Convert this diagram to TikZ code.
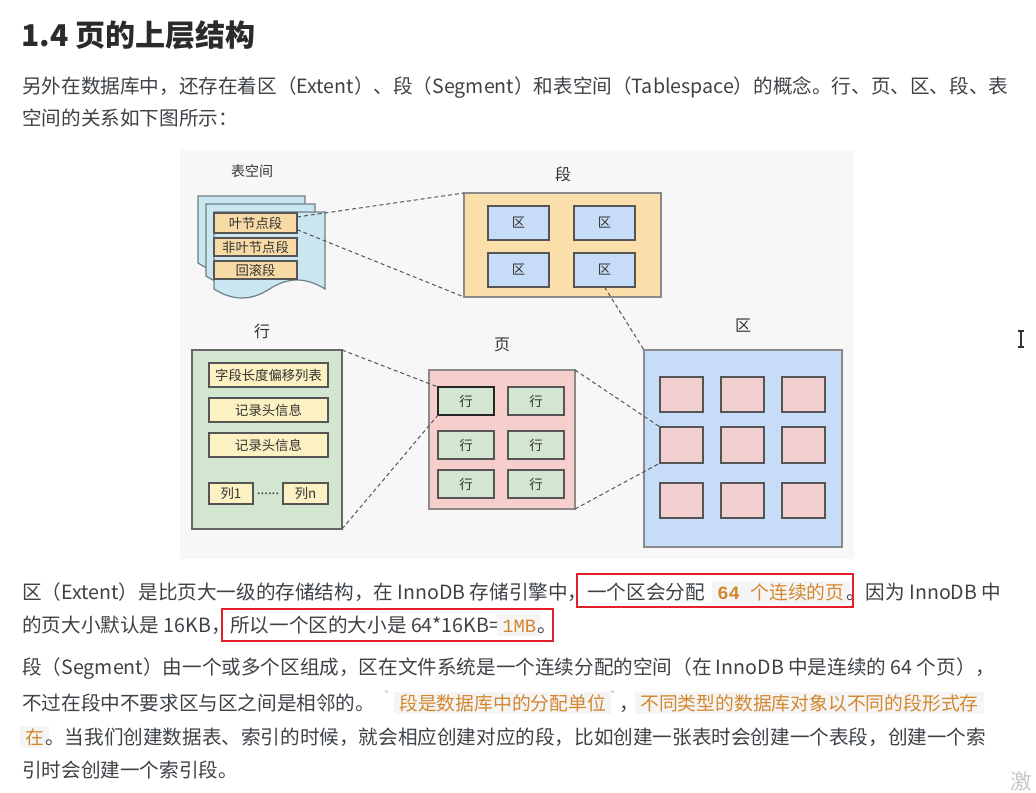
\documentclass[tikz,border=0pt]{standalone}
\usepackage{fontspec}
\setmainfont{Noto Sans CJK SC}
\newfontfamily\mymono{Liberation Mono}
\usetikzlibrary{fit,calc}
\definecolor{txtc}{HTML}{3D4247}
\definecolor{headc}{HTML}{2B2B2B}
\definecolor{codeor}{HTML}{D4872F}
\definecolor{codebg}{HTML}{F5F5F5}
\definecolor{tickc}{HTML}{A8A8A8}
\definecolor{redc}{HTML}{E3202A}
\definecolor{diagbg}{HTML}{F7F7F7}
\definecolor{sheetfill}{HTML}{C9E6F1}
\definecolor{sheetline}{HTML}{6F7E88}
\definecolor{tanfill}{HTML}{F8DAA6}
\definecolor{segfill}{HTML}{FADFAA}
\definecolor{bluefill}{HTML}{C6DCF7}
\definecolor{greenfill}{HTML}{D3E6CF}
\definecolor{yellowfill}{HTML}{FBF1C3}
\definecolor{pinkfill}{HTML}{F6CFCD}
\definecolor{pinkinner}{HTML}{F2CFCF}
\definecolor{bordc}{HTML}{555555}
\definecolor{outerc}{HTML}{8A8A8A}
\definecolor{dashc}{HTML}{555555}
\newcommand\mybody{\fontsize{14.7pt}{17pt}\selectfont}
\newcommand\mycode{\fontsize{14.1pt}{16pt}\selectfont}
\newcommand\myhead{\fontsize{22.5pt}{26pt}\selectfont\bfseries}
\newcommand\dlab{\fontsize{12pt}{14pt}\selectfont}
\newcommand\dsmall{\fontsize{10pt}{12pt}\selectfont}
\newcommand\dtiny{\fontsize{10.5pt}{12pt}\selectfont}
\tikzset{
  ln/.style={anchor=west, inner sep=0pt, text=txtc, font=\mybody, text height=12.9pt, text depth=1.8pt},
  codebox/.style={anchor=west, inner xsep=3.75pt, inner ysep=1.0pt, fill=codebg, text=codeor, font=\mycode, text height=12.4pt, text depth=1.7pt},
  tick/.style={anchor=west, inner sep=0pt, text=tickc, font=\mymono\fontsize{13pt}{15pt}\selectfont},
  redbox/.style={draw=redc, line width=2.1pt},
  fitbox/.style={inner sep=0pt, outer sep=0pt, line width=0.95pt, draw=bordc},
  outerbox/.style={inner sep=0pt, outer sep=0pt, line width=1.1pt, draw=outerc},
  every label/.style={font=\dsmall, text=black!80, inner sep=0pt},
  sheetst/.style={fill=sheetfill, draw=sheetline, line width=0.9pt},
  dlabel/.style={font=\dlab, text=black!80, inner sep=0pt},
  conn/.style={draw=dashc, line width=0.75pt, dash pattern=on 3pt off 2.2pt},
}
\begin{document}
\begin{tikzpicture}[x=0.75pt,y=-0.75pt]
\useasboundingbox (0,0) rectangle (1036,793);
\clip (0,0) rectangle (1036,793);
\fill[white] (0,0) rectangle (1036,793);

% ---------- heading and first paragraph ----------
\node[anchor=west, inner sep=0pt, text=headc, font=\myhead, text height=18.5pt, text depth=2.8pt] (head) at (21,36) {1.4 页的上层结构};
\node[ln] (p1a) at (22,86) {另外在数据库中，还存在着区（Extent）、段（Segment）和表空间（Tablespace）的概念。行、页、区、段、表};
\node[ln] (p1b) at (22,118) {空间的关系如下图所示：};

% ---------- diagram ----------
\fill[diagbg] (180,150) rectangle (854,559);

% tablespace sheets
\filldraw[sheetst] (198,196) -- (305,196) -- (305,263)
  .. controls (287,251) and (269,251) .. (251.5,263)
  .. controls (234,275) and (216,275) .. (198,263) -- cycle;
\filldraw[sheetst] (206,204) -- (315,204) -- (315,276)
  .. controls (297,264) and (279,264) .. (260.5,276)
  .. controls (242,288) and (224,288) .. (206,276) -- cycle;
\filldraw[sheetst] (214,212) -- (325,212) -- (325,289)
  .. controls (306,277) and (288,277) .. (269.5,289)
  .. controls (251,301) and (233,301) .. (214,289) -- cycle;
\node[dlabel, font=\dtiny] (tslab) at (252,171) {表空间};
\node[fitbox, fill=tanfill, fit={(214,213) (297,233)}, label=center:叶节点段] (leaf) {};
\node[fitbox, fill=tanfill, fit={(214,238) (297,256)}, label=center:非叶节点段] (nonleaf) {};
\node[fitbox, fill=tanfill, fit={(214,261) (297,279)}, label=center:回滚段] (rollback) {};

% segment
\node[dlabel] (seglab) at (563,174) {段};
\node[outerbox, fill=segfill, fit={(464,193) (661,297)}] (seg) {};
\node[fitbox, fill=bluefill, fit={(488,206) (549,240)}, label=center:区] (z1) {};
\node[fitbox, fill=bluefill, fit={(574,206) (635,240)}, label=center:区] (z2) {};
\node[fitbox, fill=bluefill, fit={(488,253) (549,287)}, label=center:区] (z3) {};
\node[fitbox, fill=bluefill, fit={(574,253) (635,287)}, label=center:区] (z4) {};

% row
\node[dlabel] (rowlab) at (262,331) {行};
\node[outerbox, draw=bordc!90, fill=greenfill, fit={(192,350) (342,529)}] (row) {};
\node[fitbox, fill=yellowfill, fit={(209,363) (328,387)}, label=center:字段长度偏移列表] (r1) {};
\node[fitbox, fill=yellowfill, fit={(209,398) (328,422)}, label=center:记录头信息] (r2) {};
\node[fitbox, fill=yellowfill, fit={(209,433) (328,457)}, label=center:记录头信息] (r3) {};
\node[fitbox, fill=yellowfill, fit={(209,483) (253,504)}, label=center:列1] (col1) {};
\node[fitbox, fill=yellowfill, fit={(283,483) (328,504)}, label=center:列n] (coln) {};
\node[font=\dsmall, text=black!80, inner sep=0pt] (dots) at (268,494) {......};

% page
\node[dlabel] (pagelab) at (502,345) {页};
\node[outerbox, fill=pinkfill, fit={(429,370) (575,509)}] (page) {};
\node[fitbox, draw=black!85, line width=1.1pt, fill=greenfill, fit={(438,387) (494,415)}, label=center:行] (h1) {};
\node[fitbox, fill=greenfill, fit={(508,387) (564,415)}, label=center:行] (h2) {};
\node[fitbox, fill=greenfill, fit={(438,431) (494,459)}, label=center:行] (h3) {};
\node[fitbox, fill=greenfill, fit={(508,431) (564,459)}, label=center:行] (h4) {};
\node[fitbox, fill=greenfill, fit={(438,470) (494,498)}, label=center:行] (h5) {};
\node[fitbox, fill=greenfill, fit={(508,470) (564,498)}, label=center:行] (h6) {};

% extent
\node[dlabel] (extlab) at (743,326) {区};
\node[outerbox, fill=bluefill, fit={(644,350) (842,547)}] (ext) {};
\foreach \c/\xa/\xb in {1/660/703, 2/721/764, 3/782/825}{
  \foreach \r/\ya/\yb in {1/377/412, 2/427/463, 3/483/518}{
    \node[fitbox, fill=pinkinner, fit={(\xa,\ya) (\xb,\yb)}] (e\r\c) {};
  }
}

% connectors
\draw[conn] ([yshift=4.5pt]leaf.east) -- (seg.north west);
\draw[conn] ([yshift=-5pt]leaf.east) -- (seg.south west);
\draw[conn] (z4.south) -- (ext.north west);
\draw[conn] (row.north east) -- (h1.north west);
\draw[conn] (row.south east) -- (h1.south west);
\draw[conn] (page.north east) -- (e21.north west);
\draw[conn] (page.south east) -- (e21.south west);

% ---------- second paragraph ----------
\node[ln] (a1) at (22,592) {区（Extent）是比页大一级的存储结构，在 InnoDB 存储引擎中，};
\node[ln] (a2) at (587,592) {一个区会分配};
\node[codebox] (a3) at (712,592) {{\mymono\bfseries 64}\hspace{8pt}个连续的页};
\node[ln] (a4) at (846,592) {。因为 InnoDB 中};
\draw[redbox] (577,574) rectangle (853,607);

\node[ln] (b1) at (22,625) {的页大小默认是 16KB，};
\node[ln] (b2) at (230,625) {所以一个区的大小是 64*16KB=};
\node[codebox] (b3) at (497,625) {{\mymono 1MB}};
\node[ln] (b4) at (537,625) {。};
\draw[redbox] (222,609) rectangle (553,641);

% ---------- third paragraph ----------
\node[ln] (c1) at (22,667) {段（Segment）由一个或多个区组成，区在文件系统是一个连续分配的空间（在 InnoDB 中是连续的 64 个页），};
\node[ln] (d1) at (22,703) {不过在段中不要求区与区之间是相邻的。};
\node[tick] (d2) at (381,697) {`};
\node[codebox] (d3) at (394,703) {段是数据库中的分配单位};
\node[tick] (d4) at (607,697) {`};
\node[ln] (d5) at (619,703) {，};
\node[codebox] (d6) at (635,703) {不同类型的数据库对象以不同的段形式存};
\node[codebox] (e1) at (20,737) {在};
\node[ln] (e2) at (45,737) {。当我们创建数据表、索引的时候，就会相应创建对应的段，比如创建一张表时会创建一个表段，创建一个索};
\node[ln] (f1) at (22,770) {引时会创建一个索引段。};

% ---------- screen artefacts ----------
\draw[line width=1pt, black!80] (1021,331) -- (1021,347) (1018,331) -- (1024,331) (1018,347) -- (1024,347);
\node[anchor=west, inner sep=0pt, text=black!22, font=\fontsize{16pt}{18pt}\selectfont] (wm) at (1010,781) {激};
\end{tikzpicture}
\end{document}
